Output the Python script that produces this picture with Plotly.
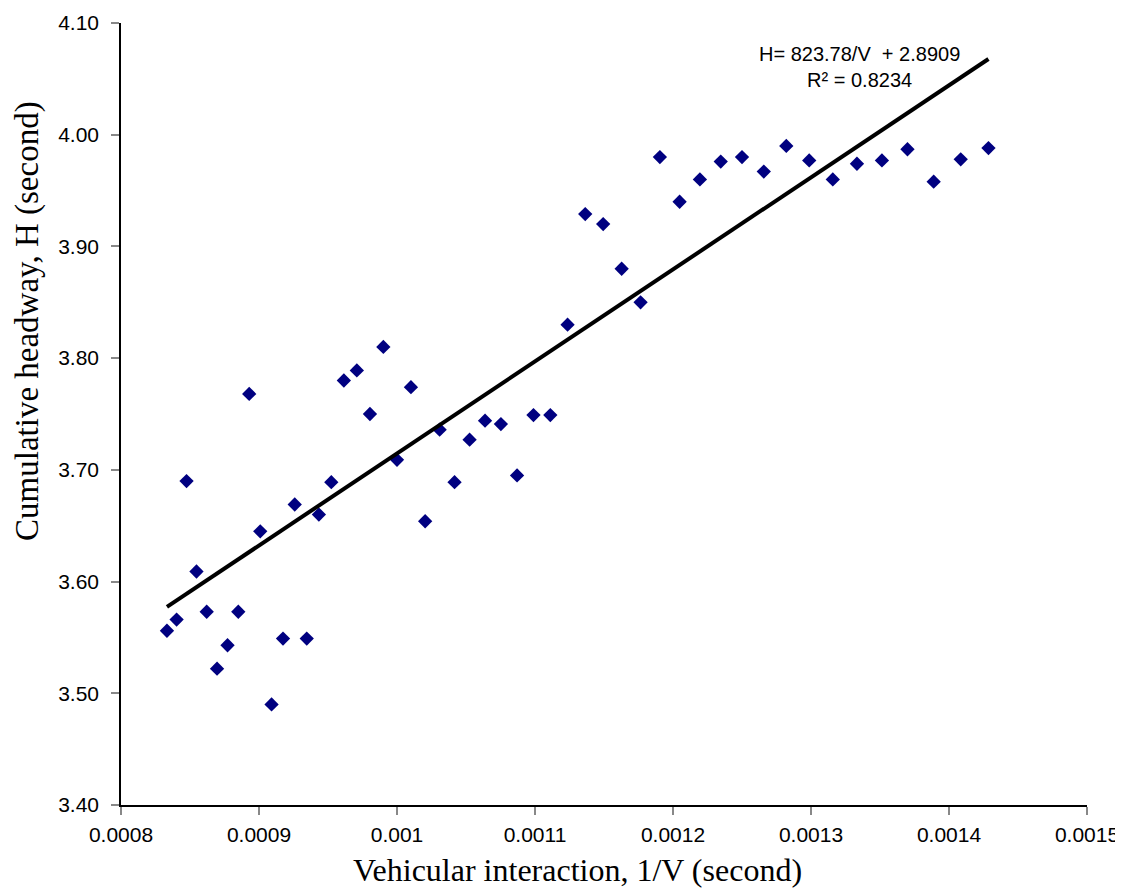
import plotly.graph_objects as go

# 1/V values (seconds)
inv_v = [0.0008333, 0.0008403, 0.0008475, 0.0008547, 0.0008621, 0.0008696, 0.0008772,
         0.0008850, 0.0008929, 0.0009009, 0.0009091, 0.0009174, 0.0009259, 0.0009346,
         0.0009434, 0.0009524, 0.0009615, 0.0009709, 0.0009804, 0.0009901, 0.0010000,
         0.0010101, 0.0010204, 0.0010309, 0.0010417, 0.0010526, 0.0010638, 0.0010753,
         0.0010870, 0.0010989, 0.0011111, 0.0011236, 0.0011364, 0.0011494, 0.0011628,
         0.0011765, 0.0011905, 0.0012048, 0.0012195, 0.0012346, 0.0012500, 0.0012658,
         0.0012821, 0.0012987, 0.0013158, 0.0013333, 0.0013514, 0.0013699, 0.0013889,
         0.0014085, 0.0014286]
headway = [3.556, 3.566, 3.690, 3.609, 3.573, 3.522, 3.543, 3.573, 3.768, 3.645,
           3.490, 3.549, 3.669, 3.549, 3.660, 3.689, 3.780, 3.789, 3.750, 3.810,
           3.709, 3.774, 3.654, 3.736, 3.689, 3.727, 3.744, 3.741, 3.695, 3.749,
           3.749, 3.830, 3.929, 3.920, 3.880, 3.850, 3.980, 3.940, 3.960, 3.976,
           3.980, 3.967, 3.990, 3.977, 3.960, 3.974, 3.977, 3.987, 3.958, 3.978, 3.988]

slope = 823.78
intercept = 2.8909
trend_x = [inv_v[0], inv_v[-1]]
trend_y = [slope * x + intercept for x in trend_x]

x_ticks = [0.0008, 0.0009, 0.0010, 0.0011, 0.0012, 0.0013, 0.0014, 0.0015]
x_tick_labels = ["0.0008", "0.0009", "0.001", "0.0011", "0.0012", "0.0013", "0.0014", "0.0015"]
y_ticks = [3.40, 3.50, 3.60, 3.70, 3.80, 3.90, 4.00, 4.10]
y_tick_labels = ["3.40", "3.50", "3.60", "3.70", "3.80", "3.90", "4.00", "4.10"]

x_title = "Vehicular interaction, 1/V (second)"
y_title = "Cumulative headway, H (second)"
eq_text = "H= 823.78/V  + 2.8909<br>R² = 0.8234"

fig = go.Figure()
fig.add_trace(go.Scatter(
    x=inv_v, y=headway, mode="markers",
    marker=dict(symbol="diamond", size=11, color="#000080", line=dict(width=0)),
    showlegend=False))
fig.add_trace(go.Scatter(
    x=trend_x, y=trend_y, mode="lines",
    line=dict(color="black", width=4), showlegend=False))

fig.add_annotation(
    x=0.0013355, y=4.0608, xref="x", yref="y",
    text=eq_text, showarrow=False, align="center",
    xanchor="center", yanchor="middle",
    font=dict(family="Liberation Sans, Arial", size=20, color="black"))

serif = "Liberation Serif, Times New Roman"
fig.add_annotation(
    x=0.473, y=-0.083, xref="paper", yref="paper",
    text=x_title, showarrow=False, xanchor="center", yanchor="middle",
    font=dict(family=serif, size=32, color="black"))
fig.add_annotation(
    x=-0.0963, y=0.619, xref="paper", yref="paper",
    text=y_title, showarrow=False, textangle=-90, xanchor="center", yanchor="middle",
    font=dict(family=serif, size=33, color="black"))

fig.update_layout(
    width=1115, height=883,
    margin=dict(l=113, r=36, t=15, b=86),
    paper_bgcolor="white", plot_bgcolor="white",
    font=dict(family="Liberation Sans, Arial", color="black"),
    xaxis=dict(
        range=[0.0008, 0.0015], tickmode="array", tickvals=x_ticks, ticktext=x_tick_labels,
        showgrid=False, zeroline=False, showline=True, linecolor="black", linewidth=1.5,
        ticks="outside", ticklen=8, tickcolor="#888888", tickwidth=1.5,
        ticklabelstandoff=2, automargin=False,
        tickfont=dict(size=21, family="Liberation Sans, Arial", color="black")),
    yaxis=dict(
        range=[3.40, 4.10], tickmode="array", tickvals=y_ticks, ticktext=y_tick_labels,
        showgrid=False, zeroline=False, showline=True, linecolor="black", linewidth=1.5,
        ticks="outside", ticklen=8, tickcolor="#888888", tickwidth=1.5,
        ticklabelstandoff=8, automargin=False,
        tickfont=dict(size=21, family="Liberation Sans, Arial", color="black")),
)

fig.write_html("out.html")
